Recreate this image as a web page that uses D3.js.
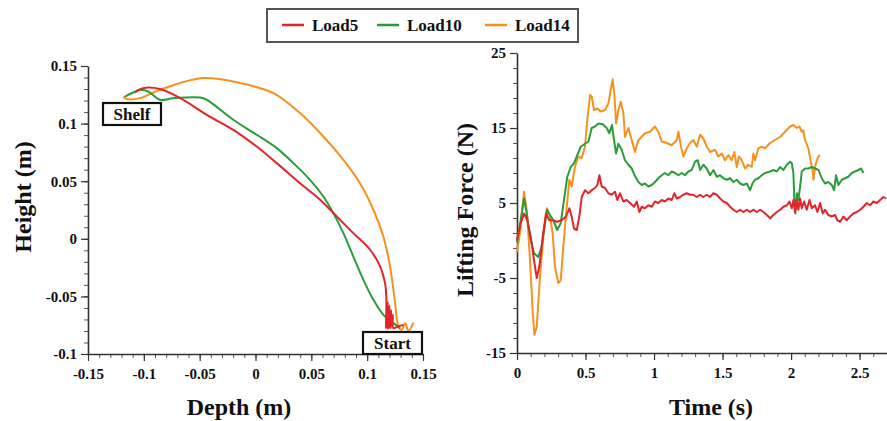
<!DOCTYPE html>
<html>
<head>
<meta charset="utf-8">
<script src="https://cdn.jsdelivr.net/npm/d3@7"></script>
<style>
body { margin: 0; background: #fff; }
text { font-family: "Liberation Serif", "Times New Roman", serif; font-weight: bold; fill: #111; }
</style>
</head>
<body>
<script>
// series names and colours
var seriesNames = ["Load5", "Load10", "Load14"];
var seriesColors = ["#e3242b", "#2a9d3a", "#f5921e"];

// left panel: hand trajectory [depth, height] in metres
var load5Path = [[-0.108, 0.127], [-0.1005, 0.1308], [-0.0856, 0.130], [-0.0647, 0.1207], [-0.0437, 0.1076],
  [-0.0199, 0.0946], [0.0011, 0.0801], [0.019, 0.0657], [0.0399, 0.0483], [0.0578, 0.0339],
  [0.0728, 0.0194], [0.0876, 0.0049], [0.1026, -0.0095], [0.1116, -0.024], [0.116, -0.0385],
  [0.1172, -0.052], [0.1168, -0.0775], [0.1185, -0.055], [0.118, -0.078], [0.120, -0.058],
  [0.1195, -0.078], [0.1215, -0.062], [0.121, -0.0775], [0.123, -0.066], [0.1235, -0.0775],
  [0.128, -0.076], [0.1325, -0.0747]];
var load10Path = [[-0.117, 0.1235], [-0.1095, 0.127], [-0.1035, 0.1293], [-0.096, 0.1279], [-0.0856, 0.1207],
  [-0.0737, 0.1221], [-0.0497, 0.1227], [-0.0437, 0.1207], [-0.0199, 0.1033], [0.0011, 0.0903],
  [0.019, 0.0787], [0.0339, 0.0657], [0.0488, 0.0512], [0.0608, 0.0367], [0.0697, 0.0223],
  [0.0787, 0.0049], [0.0876, -0.0154], [0.0966, -0.0356], [0.1056, -0.053], [0.1145, -0.066],
  [0.1235, -0.0732], [0.1295, -0.0775]];
var load14Path = [[-0.1185, 0.1235], [-0.1154, 0.1213], [-0.1035, 0.1221], [-0.0856, 0.1293], [-0.0468, 0.1395],
  [-0.0139, 0.1352], [0.016, 0.1265], [0.0399, 0.1091], [0.0608, 0.0888], [0.0787, 0.0686],
  [0.0936, 0.0483], [0.1056, 0.0252], [0.1145, 0.002], [0.1205, -0.024], [0.125, -0.0558],
  [0.128, -0.0761], [0.131, -0.079], [0.134, -0.073], [0.137, -0.080], [0.1414, -0.0727]];

// right panel: lifting force [time s, force N]
var load5Force = [[0, 0.1], [0.027, 2.3], [0.051, 3.6], [0.075, 2.7], [0.1, 0.5], [0.124, -2.6], [0.144, -5], [0.163, -3.5],
  [0.188, 0.5], [0.212, 3.6], [0.236, 2.7], [0.265, 2.7], [0.29, 2.5], [0.326, 2.7], [0.358, 3.2], [0.382, 4.3],
  [0.399, 3.2], [0.416, 1.6], [0.436, 1.4], [0.455, 3.2], [0.472, 5.8], [0.496, 6.7], [0.521, 6.3], [0.545, 6.7],
  [0.569, 7.0], [0.586, 7.4], [0.601, 8.7], [0.618, 7.2], [0.642, 7], [0.667, 6.3], [0.691, 6.1], [0.715, 6.5],
  [0.732, 5.4], [0.752, 6.3], [0.776, 5.2], [0.8, 5.4], [0.825, 5.0], [0.854, 4.5], [0.874, 5.2], [0.893, 3.8],
  [0.91, 4.5], [0.934, 4.3], [0.959, 4.7], [0.983, 4.5], [1.007, 5.2], [1.031, 5], [1.056, 5.4], [1.08, 5.2],
  [1.104, 5.6], [1.129, 5.4], [1.148, 6.3], [1.166, 5.6], [1.19, 5.8], [1.214, 6.1], [1.239, 6.3], [1.263, 6.1],
  [1.287, 6.1], [1.312, 5.8], [1.336, 6.1], [1.36, 5.8], [1.385, 6.1], [1.409, 5.8], [1.433, 6.3], [1.458, 6.1],
  [1.482, 5.6], [1.506, 5.2], [1.531, 5], [1.555, 4.5], [1.579, 4.1], [1.604, 3.8], [1.628, 4.1], [1.652, 3.8],
  [1.677, 4.1], [1.701, 3.8], [1.725, 4.1], [1.75, 3.8], [1.774, 4.1], [1.798, 3.8], [1.823, 3.4], [1.847, 2.96],
  [1.871, 3.4], [1.896, 3.8], [1.92, 4.1], [1.944, 4.5], [1.969, 4.7], [1.988, 5.2], [2.005, 4.3], [2.017, 5.4],
  [2.029, 3.8], [2.042, 5.4], [2.053, 4.1], [2.066, 5.6], [2.078, 4.3], [2.095, 5.2], [2.114, 4.1], [2.134, 5.4],
  [2.151, 4.3], [2.175, 4.7], [2.192, 3.8], [2.212, 5], [2.231, 3.6], [2.248, 4.1], [2.272, 3.4], [2.297, 3.2],
  [2.321, 3.4], [2.338, 2.7], [2.358, 2.5], [2.382, 3.2], [2.406, 2.7], [2.431, 3.2], [2.455, 3.6], [2.48, 3.8],
  [2.504, 4.1], [2.528, 4.5], [2.553, 5], [2.577, 4.7], [2.601, 5.2], [2.625, 5], [2.65, 5.4], [2.674, 5.8], [2.693, 5.6]];
var load10Force = [[0, -0.2], [0.027, 2.7], [0.051, 5.6], [0.071, 3.6], [0.095, 0.5], [0.124, -1.7], [0.155, -2.2], [0.18, -0.8],
  [0.204, 2.3], [0.221, 4.1], [0.241, 3.4], [0.265, 2.7], [0.294, 1.4], [0.319, 2.3], [0.343, 5.4], [0.367, 8.5],
  [0.392, 9.8], [0.416, 10.3], [0.436, 11.2], [0.465, 12.5], [0.496, 12.9], [0.521, 13.2], [0.545, 15], [0.569, 15.2],
  [0.594, 15.6], [0.626, 15.5], [0.655, 15], [0.674, 14.3], [0.693, 15.4], [0.708, 13.4], [0.723, 11.6], [0.74, 12.9],
  [0.764, 12.1], [0.788, 10.7], [0.813, 10.1], [0.837, 9.6], [0.861, 8.6], [0.886, 7.8], [0.91, 7.4], [0.934, 7.6],
  [0.959, 7.2], [0.983, 7.4], [1.007, 7.8], [1.031, 8.3], [1.056, 8.7], [1.08, 9], [1.104, 8.7], [1.129, 9.2],
  [1.153, 9], [1.178, 8.7], [1.202, 9], [1.226, 8.7], [1.25, 9.2], [1.275, 9.4], [1.299, 10.5], [1.319, 10.7],
  [1.336, 9.4], [1.36, 10.1], [1.385, 9.6], [1.409, 8.7], [1.433, 9.4], [1.458, 8.5], [1.482, 8.7], [1.506, 8.3],
  [1.531, 8.1], [1.555, 8.3], [1.579, 7.8], [1.604, 8.1], [1.628, 7.6], [1.652, 7.4], [1.677, 7.6], [1.701, 6.7],
  [1.718, 7.6], [1.737, 8.1], [1.761, 8.3], [1.786, 8.7], [1.81, 9], [1.847, 9.2], [1.871, 9.4], [1.896, 9.2],
  [1.92, 9.8], [1.944, 9.4], [1.969, 10.1], [1.993, 10.5], [2.005, 10.3], [2.017, 9], [2.024, 5.4], [2.031, 3.6],
  [2.042, 6.3], [2.053, 5.4], [2.066, 7.2], [2.078, 9.2], [2.102, 9.6], [2.126, 9.6], [2.151, 9.8], [2.175, 9.6],
  [2.2, 9.4], [2.224, 8.3], [2.248, 7.6], [2.272, 7.8], [2.297, 7.4], [2.314, 6.7], [2.328, 8.7], [2.345, 7.4],
  [2.37, 8.1], [2.394, 8.3], [2.418, 8.5], [2.443, 9], [2.467, 9.2], [2.491, 9.4], [2.511, 9.6], [2.528, 9]];
var load14Force = [[0, -1.5], [0.022, 1.0], [0.051, 6.5], [0.071, 4.1], [0.095, -2.6], [0.115, -9.7], [0.127, -12.6], [0.144, -11.5],
  [0.168, -4.8], [0.192, 0.5], [0.217, 4.3], [0.241, 3.2], [0.26, 1.0], [0.277, -3.5], [0.302, -5.7], [0.319, -5.3],
  [0.338, -0.8], [0.363, 4.5], [0.382, 8.1], [0.399, 7.2], [0.423, 9.8], [0.447, 11.2], [0.472, 11], [0.496, 12.5],
  [0.513, 16.1], [0.533, 19.4], [0.545, 19.2], [0.562, 17.4], [0.586, 17.6], [0.611, 17.2], [0.642, 17.4], [0.667, 18.3],
  [0.684, 20.1], [0.698, 21.5], [0.71, 19.6], [0.723, 15.6], [0.74, 17.4], [0.757, 18.5], [0.776, 17], [0.788, 13.8],
  [0.813, 15], [0.837, 13.4], [0.861, 11.8], [0.886, 13.4], [0.898, 13.6], [0.934, 14.3], [0.971, 14.5], [1.007, 15.2],
  [1.031, 14.5], [1.056, 13.2], [1.093, 13], [1.129, 12.7], [1.166, 13.4], [1.178, 14.5], [1.197, 12.5], [1.214, 11.2],
  [1.239, 12.3], [1.263, 13], [1.287, 13.4], [1.312, 12.5], [1.336, 14.1], [1.36, 13.6], [1.385, 12.5], [1.409, 11.8],
  [1.445, 12.1], [1.469, 11.2], [1.494, 11.6], [1.518, 10.7], [1.542, 11.4], [1.567, 10.7], [1.586, 11.8], [1.604, 9.8],
  [1.62, 11.2], [1.64, 10.7], [1.664, 9.6], [1.688, 10.1], [1.713, 9.8], [1.725, 11.6], [1.737, 10.7], [1.761, 12.3],
  [1.786, 12.5], [1.81, 12.3], [1.847, 13], [1.883, 13.4], [1.92, 13.8], [1.956, 14.5], [1.993, 15.2], [2.017, 15.4],
  [2.042, 15], [2.061, 15.2], [2.078, 14.5], [2.09, 14.7], [2.102, 13.4], [2.126, 12.3], [2.139, 11], [2.156, 9.4],
  [2.163, 8.1], [2.175, 9.8], [2.188, 10.7], [2.2, 11.2], [2.212, 11.4]];

// axis tick values
var depthTicks = [-0.15, -0.1, -0.05, 0, 0.05, 0.1, 0.15];
var heightTicks = [-0.1, -0.05, 0, 0.05, 0.1, 0.15];
var timeTicks = [0, 0.5, 1, 1.5, 2, 2.5];
var forceTicks = [-15, -5, 5, 15, 25];

var svg = d3.select("body").append("svg")
    .attr("width", 887)
    .attr("height", 421);

// scales
var xL = d3.scaleLinear().domain([-0.15, 0.15]).range([88, 423]);
var yL = d3.scaleLinear().domain([-0.1, 0.15]).range([354, 66]);
var xR = d3.scaleLinear().domain([0, 2.7]).range([517, 887]);
var yR = d3.scaleLinear().domain([-15, 25]).range([353, 53]);

function fmt(v) { return String(+v.toFixed(2)); }

function drawAxes(x, y, xt, yt, xMinor, yMinor) {
    // minor ticks
    svg.append("g")
        .attr("transform", "translate(0," + y.range()[0] + ")")
        .call(d3.axisBottom(x).tickValues(d3.range(x.domain()[0], x.domain()[1] + 1e-9, xMinor)).tickSize(4).tickFormat(""))
        .call(function(g) { g.select(".domain").remove(); g.selectAll("line").attr("stroke", "#555"); });
    svg.append("g")
        .attr("transform", "translate(" + x.range()[0] + ",0)")
        .call(d3.axisLeft(y).tickValues(d3.range(y.domain()[0], y.domain()[1] + 1e-9, yMinor)).tickSize(4).tickFormat(""))
        .call(function(g) { g.select(".domain").remove(); g.selectAll("line").attr("stroke", "#555"); });

    // major ticks + labels
    var gx = svg.append("g")
        .attr("transform", "translate(0," + y.range()[0] + ")")
        .call(d3.axisBottom(x).tickValues(xt).tickSize(7).tickSizeOuter(0).tickPadding(7).tickFormat(fmt));
    var gy = svg.append("g")
        .attr("transform", "translate(" + x.range()[0] + ",0)")
        .call(d3.axisLeft(y).tickValues(yt).tickSize(7).tickSizeOuter(0).tickPadding(4).tickFormat(fmt));
    [gx, gy].forEach(function(g) {
        g.select(".domain").attr("stroke", "#333").attr("stroke-width", 1.6);
        g.selectAll("line").attr("stroke", "#333").attr("stroke-width", 1.2);
        g.selectAll("text").style("font-family", "'Liberation Serif', serif")
            .style("font-weight", "bold").style("font-size", "15px").attr("fill", "#111");
    });
}

drawAxes(xL, yL, depthTicks, heightTicks, 0.01, 0.01);
drawAxes(xR, yR, timeTicks, forceTicks, 0.1, 2);

// lines
var trajLine = d3.line().x(function(d) { return xL(d[0]); }).y(function(d) { return yL(d[1]); }).curve(d3.curveCatmullRom);
var forceLine = d3.line().x(function(d) { return xR(d[0]); }).y(function(d) { return yR(d[1]); });

var paths = [load5Path, load10Path, load14Path];
var forces = [load5Force, load10Force, load14Force];

[2, 1, 0].forEach(function(i) {
    svg.append("path").datum(paths[i])
        .attr("d", trajLine).attr("fill", "none")
        .attr("stroke", seriesColors[i]).attr("stroke-width", 2);
});
[2, 1, 0].forEach(function(i) {
    svg.append("path").datum(forces[i])
        .attr("d", forceLine).attr("fill", "none")
        .attr("stroke", seriesColors[i]).attr("stroke-width", 2)
        .attr("stroke-linejoin", "round");
});

// Shelf / Start labels
function labelBox(x, y, w, h, txt) {
    svg.append("rect").attr("x", x).attr("y", y).attr("width", w).attr("height", h)
        .attr("fill", "#fff").attr("stroke", "#111").attr("stroke-width", 2.2);
    svg.append("text").attr("x", x + w / 2).attr("y", y + h / 2 + 6)
        .attr("text-anchor", "middle").style("font-size", "17px").text(txt);
}
labelBox(103, 103, 58, 22, "Shelf");
labelBox(363, 332, 59, 22, "Start");

// axis titles
svg.append("text").attr("transform", "translate(31,197) rotate(-90)")
    .attr("text-anchor", "middle").style("font-size", "24px").text("Height (m)");
svg.append("text").attr("x", 239).attr("y", 415)
    .attr("text-anchor", "middle").style("font-size", "24px").text("Depth (m)");
svg.append("text").attr("transform", "translate(473,210) rotate(-90)")
    .attr("text-anchor", "middle").style("font-size", "24px").text("Lifting Force (N)");
svg.append("text").attr("x", 711).attr("y", 415)
    .attr("text-anchor", "middle").style("font-size", "24px").text("Time (s)");

// legend
var legend = svg.append("g");
legend.append("rect").attr("x", 267).attr("y", 9).attr("width", 311).attr("height", 33)
    .attr("fill", "#fff").attr("stroke", "#555").attr("stroke-width", 2);
var legendX = [282, 377, 485];
seriesNames.forEach(function(n, i) {
    legend.append("line").attr("x1", legendX[i]).attr("x2", legendX[i] + 22)
        .attr("y1", 25).attr("y2", 25).attr("stroke", seriesColors[i]).attr("stroke-width", 2.5);
    legend.append("text").attr("x", legendX[i] + 30).attr("y", 31)
        .style("font-size", "17px").text(n);
});
</script>
</body>
</html>
